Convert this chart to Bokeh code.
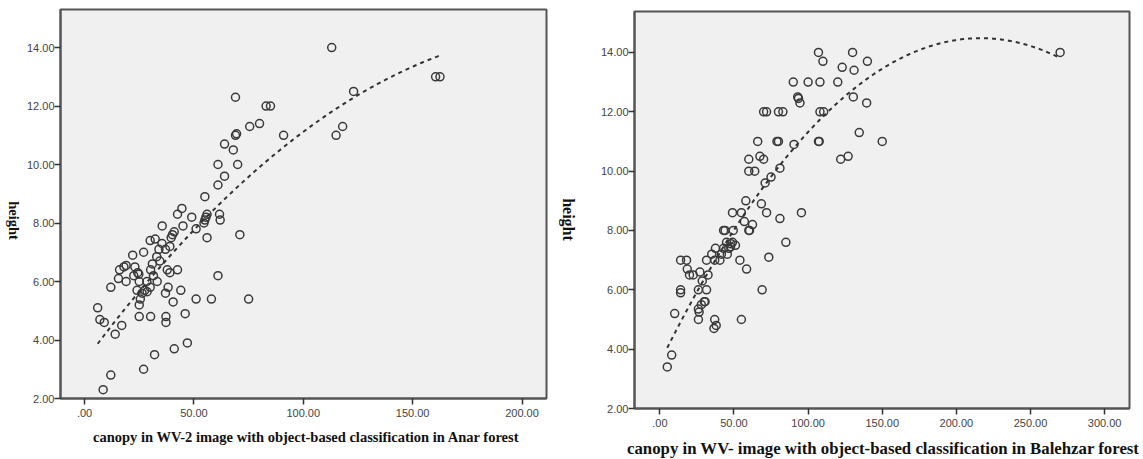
import numpy as np
from bokeh.plotting import figure
from bokeh.layouts import row, column
from bokeh.models import Range1d, FixedTicker, Div
from bokeh.core.properties import value
from bokeh.embed import file_html
from bokeh.resources import INLINE

# ---- Anar forest (left panel) ----
anar_canopy = [6, 7, 9, 8.5, 12, 14, 17, 12, 15.5, 16, 18, 19, 19, 22, 22.5, 23, 24.3, 24.8, 24, 25,
               25, 25, 25.5, 26.3, 27, 27, 27.5, 28.5, 28.6, 30, 30.2, 30, 30.2, 31, 31.5, 32, 32.3, 33.2,
               33, 34, 34.4, 35.5, 35.4, 37, 37, 37.2, 37.2, 37.8, 38.2, 39, 39, 39.6, 40.2, 41, 40.5, 41,
               42.5, 44, 45, 46, 47, 51, 51, 56, 58, 61, 71, 75, 62, 69, 83, 85, 75.5, 80, 91, 69, 69.5,
               64, 68, 61, 70, 64, 61, 55, 44.5, 42.5, 49, 56, 55.5, 55, 54.6, 61.7, 113, 160.5, 162.5,
               123, 118, 115]
anar_height = [5.1, 4.7, 4.6, 2.3, 2.8, 4.2, 4.5, 5.8, 6.1, 6.4, 6.5, 6.55, 6.0, 6.9, 6.2, 6.5, 6.3, 6.25,
               5.7, 6.0, 5.2, 4.8, 5.4, 5.6, 7.0, 3.0, 5.7, 6.0, 5.65, 7.4, 4.8, 5.8, 6.4, 6.6, 6.2, 3.5,
               7.45, 6.0, 6.85, 7.1, 6.7, 7.9, 7.3, 7.1, 5.6, 4.8, 4.6, 6.4, 5.8, 6.3, 7.2, 7.5, 7.6, 7.7,
               5.3, 3.7, 6.4, 5.7, 7.9, 4.9, 3.9, 5.4, 7.8, 7.5, 5.4, 6.2, 7.6, 5.4, 8.1, 12.3, 12.0, 12.0,
               11.3, 11.4, 11.0, 11.0, 11.05, 10.7, 10.5, 10.0, 10.0, 9.6, 9.3, 8.9, 8.5, 8.3, 8.2, 8.3,
               8.2, 8.1, 8.0, 8.3, 14.0, 13.0, 13.0, 12.5, 11.3, 11.0]

# ---- Balehzar forest (right panel) ----
bal_canopy = [5, 8, 10, 14, 14, 14, 18, 18.5, 20, 22.5, 27, 26, 26, 26.5, 26, 28.6, 28, 30, 30.5, 31.5,
              31.5, 32.5, 35, 37, 37.5, 36.5, 38, 37, 40.5, 41.5, 43, 45, 43, 44, 45.5, 46.5, 47.7, 49,
              49.5, 48, 51, 54, 55, 58.5, 60, 60.5, 62.5, 57, 69, 73.5, 85, 81, 107, 110, 130, 123, 131,
              90, 100, 108, 120, 93, 93.5, 94.5, 130.5, 70, 72, 80, 83, 108, 110.5, 66, 79, 80, 107,
              107.5, 90.5, 134.5, 122, 127, 67.5, 70, 60, 60, 64, 75, 81, 71, 58, 68.5, 72, 49, 55,
              95.5, 140, 139.5, 150, 270]
bal_height = [3.4, 3.8, 5.2, 7.0, 6.0, 5.9, 7.0, 6.7, 6.5, 6.5, 6.6, 6.0, 5.35, 5.25, 5.0, 6.3, 5.5, 5.6,
              5.6, 6.0, 7.0, 6.5, 7.2, 7.0, 7.4, 4.7, 4.8, 5.0, 7.0, 7.2, 7.4, 7.6, 8.0, 8.0, 7.2, 7.4,
              7.45, 7.6, 8.0, 7.55, 7.5, 7.0, 5.0, 6.7, 8.0, 8.0, 8.2, 8.3, 6.0, 7.1, 7.6, 8.4, 14.0,
              13.7, 14.0, 13.5, 13.4, 13.0, 13.0, 13.0, 13.0, 12.5, 12.45, 12.3, 12.5, 12.0, 12.0, 12.0,
              12.0, 12.0, 12.0, 11.0, 11.0, 11.0, 11.0, 11.0, 10.9, 11.3, 10.4, 10.5, 10.5, 10.4, 10.4,
              10.0, 10.0, 9.8, 10.1, 9.6, 9.0, 8.9, 8.6, 8.6, 8.6, 8.6, 13.7, 12.3, 11.0, 14.0]

anar_xticks = [0, 50, 100, 150, 200]
anar_xlabels = [".00", "50.00", "100.00", "150.00", "200.00"]
bal_xticks = [0, 50, 100, 150, 200, 250, 300]
bal_xlabels = [".00", "50.00", "100.00", "150.00", "200.00", "250.00", "300.00"]
yticks = [2, 4, 6, 8, 10, 12, 14]
ylabels = ["2.00", "4.00", "6.00", "8.00", "10.00", "12.00", "14.00"]

anar_title = "canopy in WV-2 image with object-based classification in Anar forest"
bal_title = "canopy in WV- image with object-based classification in Balehzar forest"
y_title = "height"

H = 459
FRAME = "#555555"
MARK = "#3a3a3a"


def y_strip(width, cx, cy_from_top, size):
    """Blank strip holding the vertical 'height' title (reads top to bottom)."""
    s = figure(width=width, height=H, x_range=Range1d(0, width), y_range=Range1d(0, H),
               x_axis_type=None, y_axis_type=None, output_backend="svg", toolbar_location=None,
               min_border=0)
    s.outline_line_color = None
    s.grid.visible = False
    s.background_fill_color = "white"
    s.border_fill_color = "white"
    s.text(x=[cx], y=[H - cy_from_top], text=[y_title], angle=-np.pi / 2,
           text_align="center", text_baseline="middle",
           text_font=value("Liberation Serif"), text_font_style="bold",
           text_font_size=value(size), text_color="#111111")
    return s


def x_title(width, height, txt, left, top, size, line_h):
    html = ('<div style="margin:0; padding:0; padding-left:%dpx; padding-top:%dpx; '
            'line-height:%dpx; white-space:nowrap; font-family:\'Liberation Serif\', serif; '
            'font-weight:bold; font-size:%s; color:#111111;">%s</div>'
            % (left, top, line_h, size, txt))
    return Div(text=html, width=width, height=height, margin=0)


def panel(xs, ys, xticks, xlabels, xr, yr, width, height, bl, br, bt, bb):
    p = figure(width=width, height=height, x_range=Range1d(*xr), y_range=Range1d(*yr),
               output_backend="svg", toolbar_location=None,
               min_border_left=bl, min_border_right=br, min_border_top=bt, min_border_bottom=bb)
    p.background_fill_color = "#f0f0f0"
    p.border_fill_color = "white"
    p.outline_line_color = FRAME
    p.outline_line_width = 2
    p.grid.visible = False

    for ax in (p.xaxis[0], p.yaxis[0]):
        ax.axis_line_color = FRAME
        ax.axis_line_width = 2
        ax.major_tick_in = 0
        ax.major_tick_out = 6
        ax.major_tick_line_color = "#333333"
        ax.major_tick_line_width = 1.5
        ax.minor_tick_line_color = None
        ax.major_label_text_font = "Liberation Sans"
        ax.major_label_text_font_size = "11px"
        ax.major_label_text_color = "#444444"

    p.xaxis.ticker = FixedTicker(ticks=xticks)
    p.xaxis.major_label_overrides = {t: l for t, l in zip(xticks, xlabels)}
    p.yaxis.ticker = FixedTicker(ticks=yticks)
    p.yaxis.major_label_overrides = {t: l for t, l in zip(yticks, ylabels)}
    p.xaxis.major_label_standoff = 4
    p.yaxis.major_label_standoff = 0

    p.scatter(xs, ys, marker="circle", size=8, fill_color=None, line_color=MARK, line_width=1.5)

    # quadratic regression line fitted to the data (as in the source chart)
    c = np.polyfit(xs, ys, 2)
    fx = np.linspace(min(xs), max(xs), 200)
    p.line(fx, np.polyval(c, fx), line_color="#333333", line_width=2, line_dash="4 4")
    return p


# left block: strip 0-22, panel 22-556 (frame 60-546, top 9, bottom 398)
LS = 22
LP_W, LP_H = 534, 428
lstrip = y_strip(LS, 13.5, 220, "14.5px")
left = panel(anar_canopy, anar_height, anar_xticks, anar_xlabels, (-11.0, 211.2), (2, 15.3),
             LP_W, LP_H, 38, 10, 9, LP_H - 398)
ltitle = x_title(LP_W, H - LP_H, anar_title, 93 - LS, 0, "14.5px", 18)

# right block: strip 556-580, panel 580-1142 (frame 634-1129, top 11, bottom 408)
RS = 24
RP_W, RP_H = 562, 434
rstrip = y_strip(RS, 12, 219, "16px")
right = panel(bal_canopy, bal_height, bal_xticks, bal_xlabels, (-17.1, 316.8), (2, 15.38),
              RP_W, RP_H, 54, 13, 11, RP_H - 408)
rtitle = x_title(RP_W, H - RP_H, bal_title, 627 - 556 - RS, 5, "16.8px", 20)

layout = row(lstrip, column(left, ltitle, spacing=0), rstrip, column(right, rtitle, spacing=0),
             spacing=0)
open("out.html", "w").write(file_html(layout, INLINE))
